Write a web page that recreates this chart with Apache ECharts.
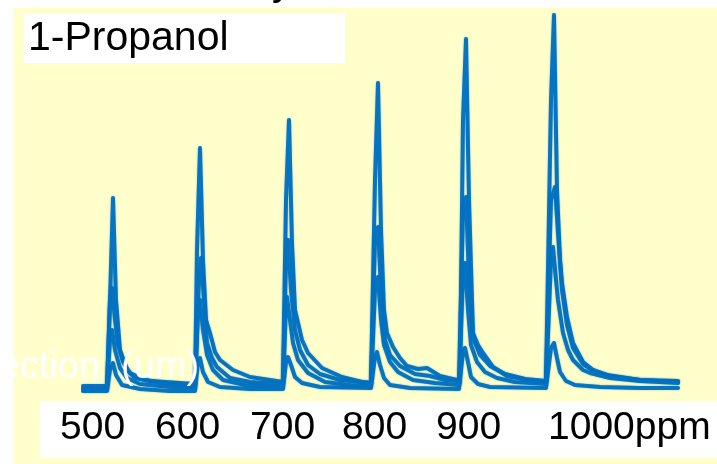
<!DOCTYPE html>
<html>
<head>
<meta charset="utf-8">
<script src="https://cdn.jsdelivr.net/npm/echarts@6/dist/echarts.min.js"></script>
<style>
html,body{margin:0;padding:0;background:#fff;}
#chart{width:717px;height:464px;}
</style>
</head>
<body>
<div id="chart"></div>
<script>
// Time (s) and deflection (um), four overlaid traces
const traceA = [[0,0.02],
 [24,0.02],[27,0.88],[30,1.90],[33,0.88],[37,0.38],[44,0.18],[52,0.10],[67,0.07],[97,0.05],[112,0.04],
 [113,0.04],[114,1.38],[117,2.40],[120,1.28],[123,0.68],[127,0.55],[132,0.36],[137,0.28],[150,0.18],[167,0.11],[187,0.08],[200,0.06],
 [201,0.05],[203,1.88],[206,2.68],[209,1.45],[212,0.78],[219,0.48],[225,0.35],[239,0.20],[259,0.11],[279,0.06],[288,0.05],
 [289,0.04],[292,2.08],[295,3.05],[298,1.58],[301,0.78],[304,0.55],[310,0.41],[317,0.30],[324,0.22],[335,0.19],[344,0.20],[357,0.12],[374,0.08],[376,0.06],
 [377,0.05],[380,2.68],[383,3.49],[386,1.88],[390,0.55],[395,0.43],[400,0.35],[410,0.21],[424,0.12],[444,0.08],[463,0.06],
 [464,0.05],[468,2.88],[471,3.73],[474,1.98],[477,1.28],[479,1.05],[484,0.71],[490,0.45],[500,0.26],[510,0.18],[524,0.13],[537,0.11],[557,0.08],[577,0.07],[595,0.06]];

const traceB = [[0,0.00],
 [24,0.00],[27,0.88],[29,1.00],[32,0.68],[35,0.43],[40,0.26],[47,0.15],[62,0.08],[87,0.04],[112,0.02],
 [113,0.02],[116,1.08],[118,1.30],[121,0.88],[124,0.45],[129,0.30],[134,0.21],[147,0.10],[167,0.06],[200,0.04],
 [201,0.03],[203,1.28],[205,1.48],[208,0.98],[212,0.58],[217,0.38],[225,0.23],[237,0.14],[257,0.08],[288,0.05],
 [289,0.05],[292,1.48],[295,1.61],[298,0.98],[302,0.48],[307,0.33],[317,0.22],[332,0.14],[347,0.12],[362,0.08],[376,0.07],
 [377,0.06],[380,1.78],[383,1.91],[386,1.08],[390,0.50],[397,0.33],[407,0.22],[422,0.14],[442,0.09],[463,0.07],
 [464,0.06],[468,1.88],[472,2.01],[475,1.55],[479,0.98],[484,0.63],[490,0.40],[500,0.24],[512,0.16],[527,0.12],[557,0.08],[595,0.07]];

const traceC = [[0,-0.02],
 [24,-0.02],[27,0.48],[29,0.58],[32,0.38],[37,0.20],[44,0.10],[57,0.04],[87,0.01],[112,0.00],
 [113,0.00],[115,0.78],[117,0.88],[120,0.58],[124,0.33],[130,0.18],[140,0.08],[162,0.03],[200,0.01],
 [201,0.01],[203,0.83],[204,0.91],[207,0.68],[210,0.45],[215,0.28],[225,0.15],[242,0.06],[267,0.03],[288,0.02],
 [289,0.02],[292,0.98],[295,1.11],[298,0.68],[301,0.43],[307,0.26],[315,0.16],[330,0.08],[352,0.05],[376,0.03],
 [377,0.03],[380,1.13],[382,1.25],[385,0.78],[388,0.43],[394,0.26],[402,0.16],[414,0.10],[432,0.06],[463,0.04],
 [464,0.04],[468,1.28],[470,1.41],[473,1.08],[475,0.88],[480,0.55],[485,0.38],[490,0.28],[500,0.18],[507,0.15],[527,0.10],[557,0.07],[595,0.05]];

const traceD = [[0,-0.03],
 [24,-0.03],[27,0.18],[30,0.25],[33,0.13],[39,0.03],[57,-0.01],[87,-0.03],[112,-0.03],
 [113,-0.03],[115,0.26],[117,0.30],[120,0.16],[125,0.06],[137,0.01],[167,-0.01],[200,-0.01],
 [201,-0.01],[203,0.26],[205,0.31],[208,0.23],[212,0.11],[219,0.05],[237,0.01],[288,0.00],
 [289,0.00],[292,0.31],[294,0.36],[297,0.23],[301,0.10],[307,0.03],[327,0.00],[376,-0.01],
 [377,-0.01],[380,0.36],[382,0.40],[385,0.26],[388,0.11],[395,0.04],[407,0.01],[463,0.00],
 [464,0.00],[468,0.40],[471,0.45],[474,0.30],[477,0.16],[483,0.07],[492,0.03],[517,0.01],[557,0.00],[595,0.00]];

const concLabels = ['500', '600', '700', '800', '900', '1000ppm'];
const sampleName = '1-Propanol';
const yAxisNameParts = ['Deflection', '(um)'];

const chart = echarts.init(document.getElementById('chart'));
const labelX = [60, 155, 250, 342, 436, 548];
const FONT = 'Liberation Sans, Arial, sans-serif';
const BLUE = '#0070C0';

const graphics = [
  {type:'rect', left:13, top:8, shape:{width:704, height:456}, style:{fill:'#FFFFCC'}, z:0, silent:true},
  {type:'rect', left:24, top:13, shape:{width:321, height:50}, style:{fill:'#FFFFFF'}, z:10},
  {type:'text', x:28, y:39, z:11, style:{text:sampleName, fill:'#000', font:'41px ' + FONT, textVerticalAlign:'middle'}},
  {type:'rect', left:40, top:402, shape:{width:677, height:56}, style:{fill:'#FFFFFF'}, z:10},
  {type:'text', x:272, y:-16, z:11, style:{text:'y', fill:'#000', font:'40px ' + FONT, textVerticalAlign:'middle'}},
  {type:'text', x:100, y:368, z:11, style:{text:yAxisNameParts[0], fill:'#FFFFFF', font:'38px ' + FONT, textAlign:'right', textVerticalAlign:'middle'}},
  {type:'text', x:121, y:368, z:11, style:{text:yAxisNameParts[1], fill:'#FFFFFF', font:'38px ' + FONT, textAlign:'left', textVerticalAlign:'middle'}},
  {type:'rect', left:0, top:0, shape:{width:13, height:464}, style:{fill:'#FFFFFF'}, z:12}
];
concLabels.forEach((t, i) => {
  graphics.push({type:'text', x:labelX[i], y:428, z:11,
    style:{text:t, fill:'#000', font:'39px ' + FONT, textVerticalAlign:'middle'}});
});

const mk = (name, data) => ({
  name, type:'line', data, showSymbol:false, symbol:'none', smooth:false, z:2,
  lineStyle:{color:BLUE, width:4, join:'round', cap:'round', opacity:0.95,
             shadowColor:'rgba(0,112,192,0.5)', shadowBlur:2},
  animation:false
});

chart.setOption({
  backgroundColor:'#FFFFFF',
  animation:false,
  grid:{left:83, right:34, top:8, bottom:56, containLabel:false},
  xAxis:{type:'value', min:0, max:600, show:false},
  yAxis:{type:'value', min:-0.2, max:3.8, show:false},
  graphic: graphics,
  series:[mk('A', traceA), mk('B', traceB), mk('C', traceC), mk('D', traceD)]
});
</script>
</body>
</html>
